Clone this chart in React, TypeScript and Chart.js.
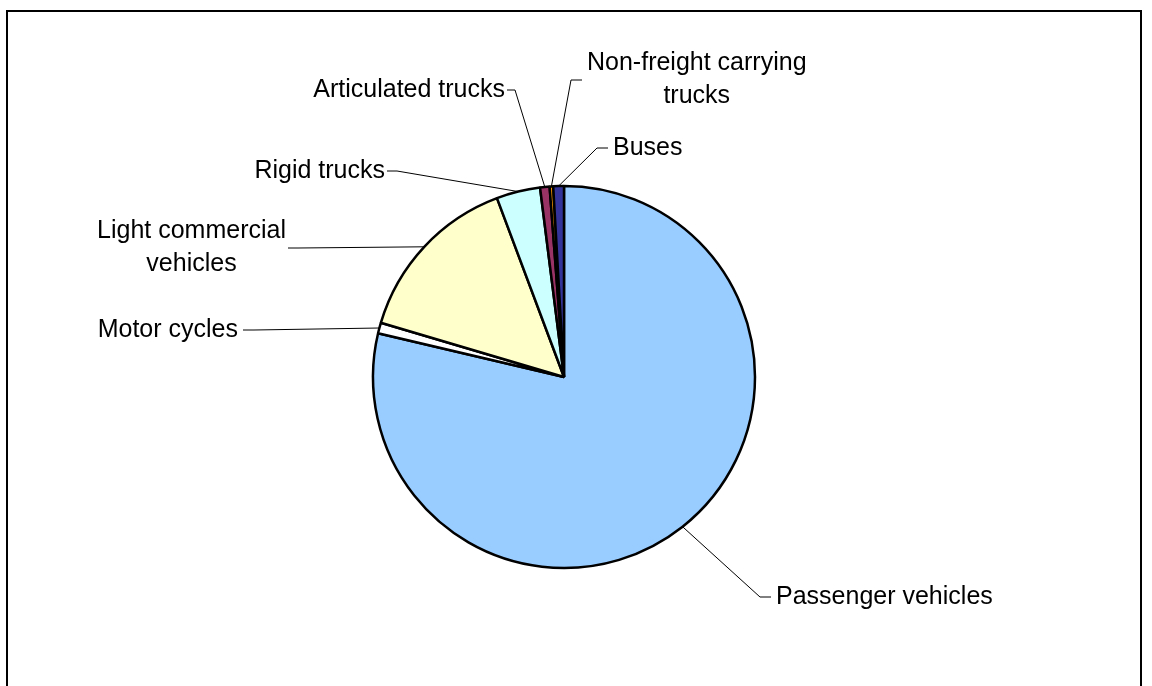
import React, { useEffect, useRef } from "react";
import { Chart, registerables } from "chart.js";

Chart.register(...registerables);

const categories = [
  "Passenger vehicles",
  "Motor cycles",
  "Light commercial vehicles",
  "Rigid trucks",
  "Articulated trucks",
  "Non-freight carrying trucks",
  "Buses",
];
const shares = [78.6, 0.9, 14.7, 3.7, 0.8, 0.3, 0.9];
const labelLines = [
  ["Passenger vehicles"],
  ["Motor cycles"],
  ["Light commercial", "vehicles"],
  ["Rigid trucks"],
  ["Articulated trucks"],
  ["Non-freight carrying", "trucks"],
  ["Buses"],
];
const colors = ["#99CCFF", "#FFFFFF", "#FFFFCC", "#CCFFFF", "#993366", "#FF9900", "#333399"];

// label placement relative to pie centre (layout, not data)
const labelPlacement = [
  { side: "right", dx: 212, dy: 220, gap: 5, elbow: 16 },
  { side: "left", dx: -326, dy: -47, gap: 5, elbow: 16 },
  { side: "left", dx: -278, dy: -129, gap: 2, elbow: 12 },
  { side: "left", dx: -179, dy: -206, gap: 2, elbow: 12 },
  { side: "left", dx: -59, dy: -287, gap: 2, elbow: 10 },
  { side: "right", dx: 23, dy: -297, gap: 5, elbow: 16 },
  { side: "right", dx: 49, dy: -229, gap: 5, elbow: 16 },
];

const FONT = '25px "Liberation Sans", Arial, sans-serif';
const LINE_H = 33;

const labelPlugin = {
  id: "pieLabels",
  afterDatasetsDraw(chart: any) {
    const ctx = chart.ctx;
    const meta = chart.getDatasetMeta(0);
    ctx.save();
    ctx.font = FONT;
    ctx.fillStyle = "#000";
    ctx.strokeStyle = "#000";
    ctx.lineWidth = 1;
    ctx.textBaseline = "middle";
    meta.data.forEach((arc: any, i: number) => {
      const p = labelPlacement[i];
      const lines = labelLines[i];
      const { x, y, startAngle, endAngle, outerRadius } = arc.getProps(
        ["x", "y", "startAngle", "endAngle", "outerRadius"],
        true
      );
      const mid = (startAngle + endAngle) / 2;
      const ax = x + Math.cos(mid) * outerRadius;
      const ay = y + Math.sin(mid) * outerRadius;
      const blockW = Math.max(...lines.map((l) => ctx.measureText(l).width));
      const ym = y + p.dy;
      const edge = x + p.dx;
      const blockCx = p.side === "left" ? edge - blockW / 2 : edge + blockW / 2;
      ctx.textAlign = "center";
      lines.forEach((l, k) => {
        const ly = ym + (k - (lines.length - 1) / 2) * LINE_H;
        ctx.fillText(l, blockCx, ly);
      });
      const dir = p.side === "left" ? 1 : -1;
      const sx = edge + dir * p.gap;
      const ex = edge + dir * p.elbow;
      ctx.beginPath();
      ctx.moveTo(sx, ym);
      ctx.lineTo(ex, ym);
      ctx.lineTo(ax, ay);
      ctx.stroke();
    });
    ctx.restore();
  },
};

export default function App() {
  const ref = useRef<HTMLCanvasElement>(null);
  useEffect(() => {
    if (!ref.current) return;
    const chart = new Chart(ref.current, {
      type: "pie",
      data: {
        labels: categories,
        datasets: [
          {
            data: shares,
            backgroundColor: colors,
            borderColor: "#000",
            borderWidth: 2.5,
          },
        ],
      },
      options: {
        responsive: false,
        animation: false,
        radius: 191,
        layout: { padding: { left: 0, right: 24, top: 68, bottom: 0 } },
        plugins: {
          legend: { display: false },
          title: { display: false },
          tooltip: { enabled: false },
        },
      } as any,
      plugins: [labelPlugin],
    });
    return () => chart.destroy();
  }, []);
  return (
    <div style={{ position: "fixed", left: 0, top: 0, width: 1152, height: 686, background: "#fff", overflow: "hidden" }}>
      <div
        style={{
          position: "absolute",
          left: 6,
          top: 10,
          width: 1132,
          height: 700,
          border: "2px solid #000",
        }}
      />
      <canvas ref={ref} width={1152} height={686} style={{ position: "absolute", left: 0, top: 0 }} />
    </div>
  );
}
